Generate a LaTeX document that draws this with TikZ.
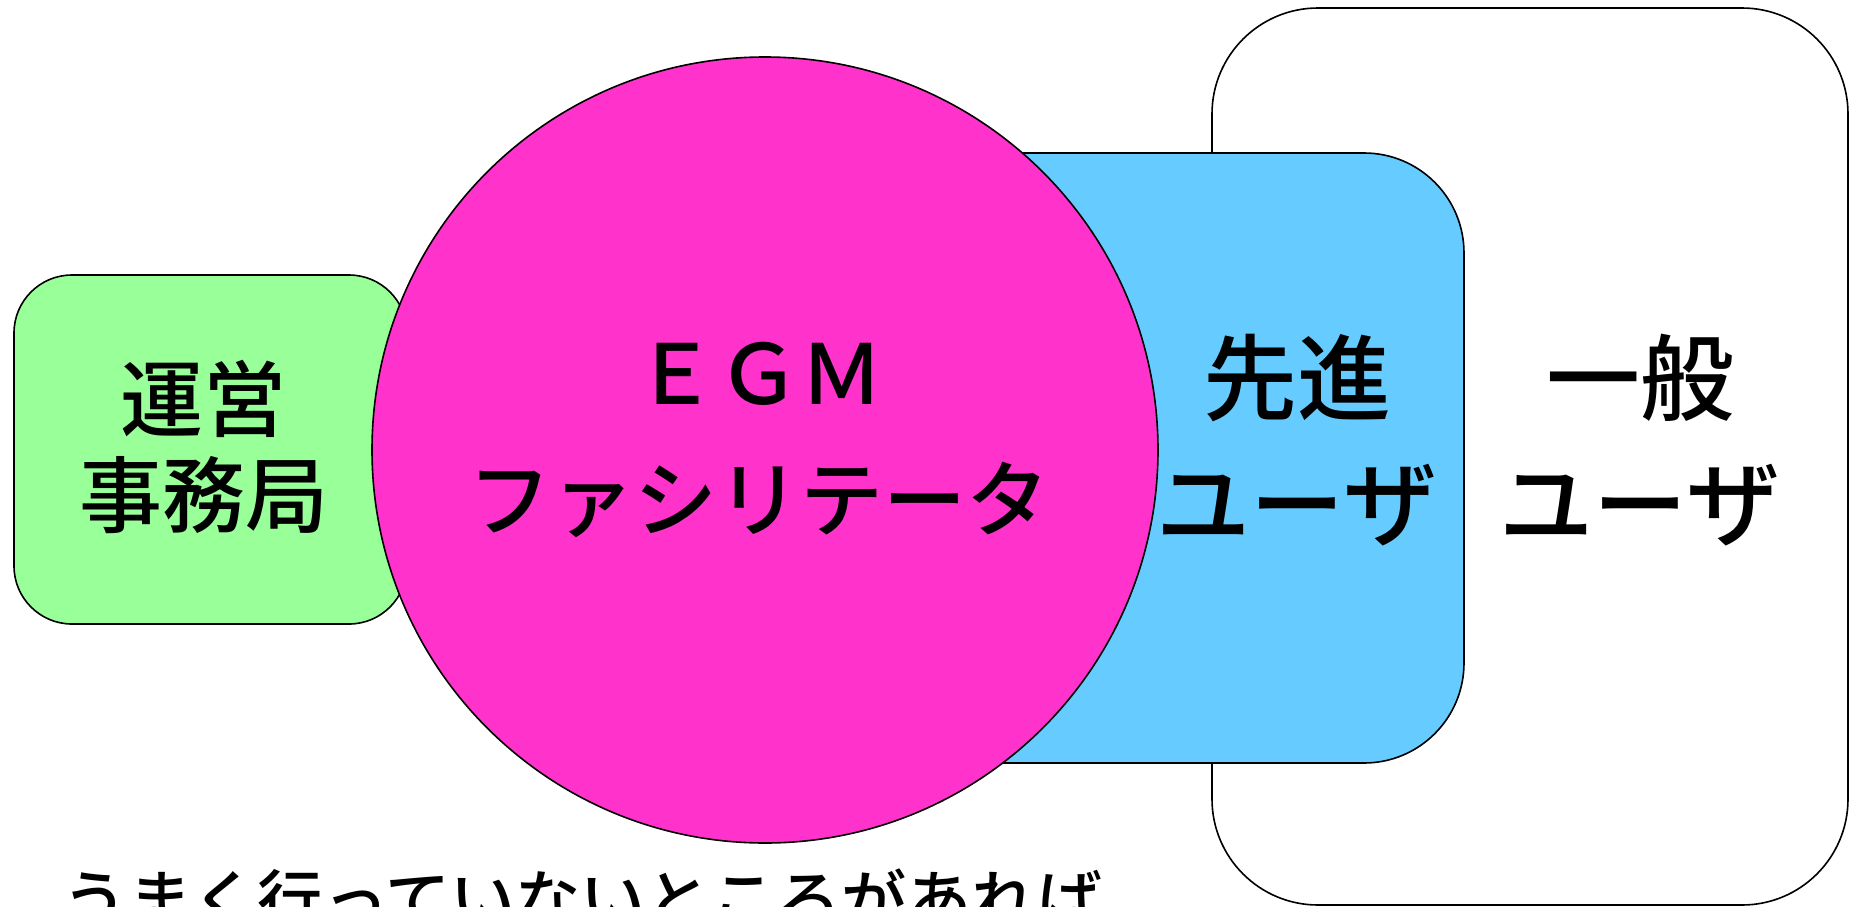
\documentclass[tikz,border=0pt]{standalone}
\usepackage{fontspec}
\setmainfont{Noto Sans CJK JP}[UprightFont={* Medium}]
\definecolor{egmgreen}{HTML}{99FF99}
\definecolor{egmpink}{HTML}{FF33CC}
\definecolor{egmblue}{HTML}{66CCFF}
\begin{document}
\begin{tikzpicture}[x=0.5pt,y=-0.5pt,
  shapeline/.style={draw=black,line width=0.8pt},
  bigtext/.style={font=\fontsize{41.5pt}{63pt}\selectfont,align=center,inner sep=0pt},
  usertext/.style={font=\fontsize{47pt}{63pt}\selectfont,align=center,inner sep=0pt},
  smalltext/.style={font=\fontsize{41.5pt}{48pt}\selectfont,align=center,inner sep=0pt}]
\useasboundingbox (0,0) rectangle (1849,906);
% general users
\draw[shapeline,fill=white,rounded corners=53pt] (1212,8) rectangle (1848,905);
% advanced users
\draw[shapeline,fill=egmblue,rounded corners=50pt] (900,153) rectangle (1464,763);
% secretariat
\draw[shapeline,fill=egmgreen,rounded corners=29pt] (14,275) rectangle (407,624);
% facilitator circle
\node[shapeline,fill=egmpink,circle,minimum size=786*0.5pt,inner sep=0pt] (fac) at (765,450) {};
\node[smalltext] (ops) at (204,447) {運営\\事務局};
\node[bigtext] (egm) at (759,440) {ＥＧＭ\\ファシリテータ};
\node[usertext] (adv) at (1297,440) {先進\\ユーザ};
\node[usertext] (gen) at (1640,440) {一般\\ユーザ};
\node[font=\fontsize{32.6pt}{38pt}\selectfont,inner sep=0pt,anchor=base west] (note) at (62,924) {うまく行っていないところがあれば};
\end{tikzpicture}
\end{document}
